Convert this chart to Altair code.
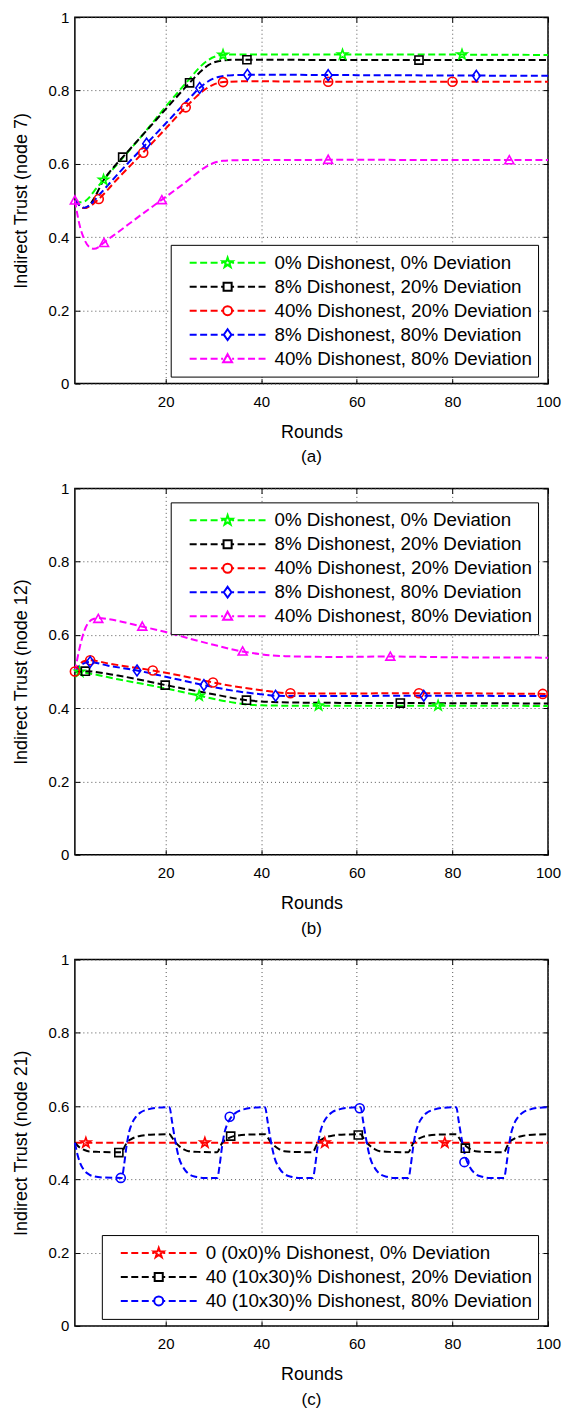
import math
import altair as alt
import pandas as pd

FONT = "Liberation Sans"

# ---------------- Panel (a): node 7 ----------------
A_NAMES = ["0% Dishonest, 0% Deviation", "8% Dishonest, 20% Deviation",
           "40% Dishonest, 20% Deviation", "8% Dishonest, 80% Deviation",
           "40% Dishonest, 80% Deviation"]
A_COLORS = ["#00ff00", "#000000", "#ff0000", "#0000ff", "#ff00ff"]
A_MARKERS = ["star", "square", "circle", "diamond", "triangle"]

A_GREEN_R = [1, 2, 3, 4, 5, 7, 10, 15, 20, 25, 27, 29, 31, 33, 40, 60, 80, 100]
A_GREEN_V = [0.500, 0.495, 0.497, 0.508, 0.525, 0.556, 0.601, 0.676, 0.756, 0.832, 0.862, 0.884, 0.895, 0.898, 0.898, 0.898, 0.898, 0.897]
A_BLACK_R = [1, 2, 3, 4, 5, 7, 9, 11, 15, 20, 25, 27, 29, 31, 34, 40, 60, 80, 100]
A_BLACK_V = [0.500, 0.486, 0.479, 0.486, 0.505, 0.555, 0.589, 0.618, 0.676, 0.749, 0.821, 0.848, 0.870, 0.880, 0.884, 0.884, 0.883, 0.883, 0.883]
A_RED_R = [1, 2, 3, 4, 6, 10, 15, 20, 24, 26, 28, 30, 32, 36, 40, 60, 80, 100]
A_RED_V = [0.500, 0.486, 0.479, 0.483, 0.504, 0.560, 0.627, 0.696, 0.752, 0.778, 0.801, 0.816, 0.823, 0.825, 0.825, 0.824, 0.824, 0.824]
A_BLUE_R = [1, 2, 3, 4, 6, 10, 16, 20, 25, 27, 29, 31, 34, 40, 60, 80, 100]
A_BLUE_V = [0.500, 0.486, 0.480, 0.486, 0.514, 0.572, 0.655, 0.710, 0.779, 0.806, 0.826, 0.837, 0.842, 0.843, 0.842, 0.841, 0.840]
A_MAG_R = [1, 2, 3, 4, 5, 6, 7, 10, 15, 19, 24, 28, 30, 32, 36, 40, 60, 80, 100]
A_MAG_V = [0.500, 0.432, 0.393, 0.373, 0.368, 0.373, 0.384, 0.413, 0.462, 0.500, 0.548, 0.588, 0.602, 0.608, 0.610, 0.610, 0.611, 0.610, 0.610]

A_GREEN_MR = [7, 32, 57, 82]
A_GREEN_MV = [0.556, 0.897, 0.898, 0.898]
A_BLACK_MR = [11, 25, 37, 73]
A_BLACK_MV = [0.618, 0.821, 0.884, 0.883]
A_RED_MR = [6, 15.3, 24.2, 32, 54, 80]
A_RED_MV = [0.504, 0.630, 0.754, 0.823, 0.824, 0.824]
A_BLUE_MR = [16, 27.1, 37.1, 54, 85]
A_BLUE_MV = [0.655, 0.807, 0.843, 0.842, 0.840]
A_MAG_MR = [1, 7.1, 19.2, 54, 91.9]
A_MAG_MV = [0.500, 0.384, 0.501, 0.611, 0.610]

# ---------------- Panel (b): node 12 ----------------
B_NAMES = A_NAMES
B_COLORS = A_COLORS
B_MARKERS = A_MARKERS

B_GREEN_R = [1, 3, 10, 20, 27, 33, 37, 40, 45, 60, 80, 100]
B_GREEN_V = [0.500, 0.497, 0.479, 0.454, 0.434, 0.418, 0.410, 0.408, 0.407, 0.407, 0.407, 0.406]
B_BLACK_R = [1, 3, 10, 20, 30, 37, 42, 50, 70, 100]
B_BLACK_V = [0.500, 0.501, 0.489, 0.463, 0.438, 0.422, 0.417, 0.415, 0.414, 0.413]
B_RED_R = [1, 2, 3, 4.2, 8, 17.3, 25, 30, 40, 46, 55, 73, 100]
B_RED_V = [0.500, 0.520, 0.529, 0.531, 0.522, 0.503, 0.484, 0.470, 0.449, 0.441, 0.440, 0.441, 0.439]
B_BLUE_R = [1, 2, 3, 4.2, 8, 14, 20, 28, 35, 40, 43, 50, 74, 100]
B_BLUE_V = [0.500, 0.515, 0.523, 0.526, 0.516, 0.503, 0.486, 0.463, 0.446, 0.438, 0.434, 0.433, 0.434, 0.433]
B_MAG_R = [1, 2, 3, 4, 5, 6, 8, 15, 20, 25, 30, 36, 40, 45, 55, 67, 80, 100]
B_MAG_V = [0.500, 0.565, 0.612, 0.636, 0.644, 0.646, 0.643, 0.623, 0.608, 0.590, 0.573, 0.555, 0.547, 0.542, 0.540, 0.541, 0.539, 0.538]

B_GREEN_MR = [2, 27, 52, 77]
B_GREEN_MV = [0.499, 0.434, 0.407, 0.407]
B_BLACK_MR = [3.2, 19.9, 36.9, 69.1]
B_BLACK_MV = [0.501, 0.463, 0.422, 0.414]
B_RED_MR = [1, 4.2, 17.3, 29.9, 46.1, 73, 98.9]
B_RED_MV = [0.500, 0.531, 0.503, 0.470, 0.441, 0.441, 0.439]
B_BLUE_MR = [4.2, 14, 28, 43, 74]
B_BLUE_MV = [0.526, 0.503, 0.463, 0.434, 0.434]
B_MAG_MR = [5.9, 15.1, 36.1, 67]
B_MAG_MV = [0.644, 0.623, 0.555, 0.541]

# ---------------- Panel (c): node 21 ----------------
C_NAMES = ["0 (0x0)% Dishonest, 0% Deviation",
           "40 (10x30)% Dishonest, 20% Deviation",
           "40 (10x30)% Dishonest, 80% Deviation"]
C_COLORS = ["#ff0000", "#000000", "#0000ff"]
C_MARKERS = ["star", "square", "circle"]

C_RED_R = [1, 25, 50, 75, 100]
C_RED_V = [0.500, 0.500, 0.500, 0.500, 0.500]
C_BLACK_R = [1, 2, 3, 4, 6, 10.8,
             11.3, 11.8, 12.8, 13.8, 14.8, 16.8, 20.8,
             21.3, 21.8, 22.8, 23.8, 24.8, 26.8, 30.8,
             31.3, 31.8, 32.8, 33.8, 34.8, 36.8, 40.8,
             41.3, 41.8, 42.8, 43.8, 44.8, 46.8, 50.8,
             51.3, 51.8, 52.8, 53.8, 54.8, 56.8, 60.8,
             61.3, 61.8, 62.8, 63.8, 64.8, 66.8, 70.8,
             71.3, 71.8, 72.8, 73.8, 74.8, 76.8, 80.8,
             81.3, 81.8, 82.8, 83.8, 84.8, 86.8, 90.8,
             91.3, 91.8, 92.8, 93.8, 94.8, 96.8, 100]
C_BLACK_V = [0.500, 0.487, 0.480, 0.476, 0.475, 0.474,
             0.486, 0.499, 0.510, 0.516, 0.519, 0.522, 0.523,
             0.515, 0.505, 0.491, 0.482, 0.477, 0.475, 0.474,
             0.486, 0.499, 0.510, 0.516, 0.519, 0.522, 0.523,
             0.515, 0.505, 0.491, 0.482, 0.477, 0.475, 0.474,
             0.486, 0.499, 0.510, 0.516, 0.519, 0.522, 0.523,
             0.515, 0.505, 0.491, 0.482, 0.477, 0.475, 0.474,
             0.486, 0.499, 0.510, 0.516, 0.519, 0.522, 0.523,
             0.515, 0.505, 0.491, 0.482, 0.477, 0.475, 0.474,
             0.486, 0.499, 0.510, 0.516, 0.519, 0.522, 0.523]
C_BLUE_R = [1, 1.5, 2, 3, 4, 5, 7, 10.8,
            11.3, 11.8, 12.3, 12.8, 13.8, 14.8, 16.3, 17.8, 20.8,
            21.3, 21.8, 22.3, 22.8, 23.8, 24.8, 26.3, 27.8, 30.8,
            31.3, 31.8, 32.3, 32.8, 33.8, 34.8, 36.3, 37.8, 40.8,
            41.3, 41.8, 42.3, 42.8, 43.8, 44.8, 46.3, 47.8, 50.8,
            51.3, 51.8, 52.3, 52.8, 53.8, 54.8, 56.3, 57.8, 60.8,
            61.3, 61.8, 62.3, 62.8, 63.8, 64.8, 66.3, 67.8, 70.8,
            71.3, 71.8, 72.3, 72.8, 73.8, 74.8, 76.3, 77.8, 80.8,
            81.3, 81.8, 82.3, 82.8, 83.8, 84.8, 86.3, 87.8, 90.8,
            91.3, 91.8, 92.3, 92.8, 93.8, 94.8, 96.3, 97.8, 100]
C_BLUE_V = [0.500, 0.470, 0.448, 0.424, 0.413, 0.408, 0.405, 0.404,
            0.440, 0.490, 0.527, 0.548, 0.571, 0.583, 0.591, 0.595, 0.597,
            0.560, 0.520, 0.485, 0.458, 0.430, 0.415, 0.407, 0.404, 0.404,
            0.440, 0.490, 0.527, 0.548, 0.571, 0.583, 0.591, 0.595, 0.597,
            0.560, 0.520, 0.485, 0.458, 0.430, 0.415, 0.407, 0.404, 0.404,
            0.440, 0.490, 0.527, 0.548, 0.571, 0.583, 0.591, 0.595, 0.597,
            0.560, 0.520, 0.485, 0.458, 0.430, 0.415, 0.407, 0.404, 0.404,
            0.440, 0.490, 0.527, 0.548, 0.571, 0.583, 0.591, 0.595, 0.597,
            0.560, 0.520, 0.485, 0.458, 0.430, 0.415, 0.407, 0.404, 0.404,
            0.440, 0.490, 0.527, 0.548, 0.571, 0.583, 0.591, 0.595, 0.597]

C_RED_MR = [3.3, 28.2, 53.3, 78.4]
C_RED_MV = [0.500, 0.500, 0.500, 0.500]
C_BLACK_MR = [10.2, 33.6, 60.3, 82.7]
C_BLACK_MV = [0.473, 0.518, 0.521, 0.485]
C_BLUE_MR = [10.6, 33.4, 60.6, 82.5]
C_BLUE_MV = [0.404, 0.571, 0.594, 0.447]

X_TICKS = [20, 40, 60, 80, 100]
Y_TICKS = [0, 0.2, 0.4, 0.6, 0.8, 1]


# ---------------- marker / legend symbol shapes ----------------
def fmt(v):
    return f"{v:.4f}".rstrip("0").rstrip(".")


def marker_path(kind, r):
    if kind == "circle":
        return f"M{fmt(r)},0A{fmt(r)},{fmt(r)} 0 1,1 {fmt(-r)},0A{fmt(r)},{fmt(r)} 0 1,1 {fmt(r)},0Z"
    if kind == "square":
        q = r * 0.9
        return f"M{fmt(-q)},{fmt(-q)}H{fmt(q)}V{fmt(q)}H{fmt(-q)}Z"
    if kind == "diamond":
        return f"M0,{fmt(-r * 1.2)}L{fmt(r * 0.85)},0L0,{fmt(r * 1.2)}L{fmt(-r * 0.85)},0Z"
    if kind == "triangle":
        return f"M0,{fmt(-r)}L{fmt(r)},{fmt(r * 0.8)}L{fmt(-r)},{fmt(r * 0.8)}Z"
    pts = []
    for i in range(10):
        a = math.radians(-90 + 36 * i)
        rr = r * 1.15 if i % 2 == 0 else r * 0.45
        pts.append(f"{fmt(rr * math.cos(a))},{fmt(rr * math.sin(a))}")
    return "M" + "L".join(pts) + "Z"


LEG_HALF = 38.0        # px: half length of the legend line sample
LEG_SIZE = (2 * LEG_HALF) ** 2
MK_R = 4.5             # px: marker radius
PLOT_W, PLOT_H = 474, 367


def legend_path(kind):
    u = 1.0 / LEG_HALF
    rm = MK_R * u
    d, g = 7 * u, 3.5 * u
    segs = []
    x = -1.0
    while x < -rm - 1e-6:
        x2 = min(x + d, -rm)
        segs.append(f"M{fmt(x)},0H{fmt(x2)}")
        segs.append(f"M{fmt(-x)},0H{fmt(-x2)}")
        x += d + g
    return "".join(segs) + marker_path(kind, rm)


def frame(names, rs, vs):
    rows = []
    for name, r_list, v_list in zip(names, rs, vs):
        for r, v in zip(r_list, v_list):
            rows.append({"r": r, "v": v, "s": name})
    return pd.DataFrame(rows)


def tick_axis(orient, values):
    # tick-only axis pulled inside the frame so that its ticks point inward
    return alt.Axis(orient=orient, values=values, offset=-5, ticks=True, tickSize=5,
                    tickColor="black", tickWidth=1, labels=False, title=None,
                    grid=False, domain=False)


def panel(names, colors, markers, line_r, line_v, mk_r, mk_v, ytitle, caption, lx, ly):
    lines = frame(names, line_r, line_v)
    marks = frame(names, mk_r, mk_v)
    xs = alt.Scale(domain=[1, 100], nice=False, zero=False)
    ys = alt.Scale(domain=[0, 1], nice=False, zero=False)
    x_main = alt.X("r:Q", scale=xs,
                   axis=alt.Axis(values=X_TICKS, title="Rounds", labelFlush=False,
                                 labelPadding=11, titlePadding=14))
    y_main = alt.Y("v:Q", scale=ys,
                   axis=alt.Axis(values=Y_TICKS, format="~g", title=ytitle,
                                 labelPadding=6, titlePadding=18))
    cscale = alt.Scale(domain=names, range=colors)
    leg = alt.Legend(orient="none", legendX=lx, legendY=ly, title=None,
                     direction="vertical", labelFont=FONT, labelFontSize=18.8,
                     labelColor="black", labelLimit=600, labelOffset=8,
                     symbolOffset=12, symbolSize=LEG_SIZE, symbolStrokeWidth=2,
                     symbolOpacity=1, clipHeight=24, rowPadding=0,
                     strokeColor="black", fillColor="white", padding=6,
                     cornerRadius=0)
    line = alt.Chart(lines).mark_line(strokeDash=[7, 3.5], strokeWidth=2,
                                      interpolate="monotone").encode(
        x=x_main, y=y_main, color=alt.Color("s:N", scale=cscale, legend=None))
    pts = alt.Chart(marks).mark_point(filled=False, strokeWidth=1.6, size=(2 * MK_R) ** 2,
                                      opacity=1).encode(
        x=alt.X("r:Q", scale=xs, axis=tick_axis("bottom", X_TICKS)),
        y=alt.Y("v:Q", scale=ys, axis=tick_axis("left", Y_TICKS)),
        color=alt.Color("s:N", scale=cscale, legend=None),
        shape=alt.Shape("s:N", scale=alt.Scale(domain=names,
                                                range=[marker_path(m, 1) for m in markers]),
                        legend=None))
    ghost = alt.Chart(marks).mark_point(filled=False, opacity=0).encode(
        x=alt.X("r:Q", scale=xs, axis=tick_axis("top", X_TICKS)),
        y=alt.Y("v:Q", scale=ys, axis=tick_axis("right", Y_TICKS)),
        color=alt.Color("s:N", scale=cscale, legend=leg),
        shape=alt.Shape("s:N", scale=alt.Scale(domain=names,
                                                range=[legend_path(m) for m in markers]),
                        legend=leg))
    return alt.layer(line, pts, ghost).resolve_scale(
        color="independent", shape="independent").resolve_axis(
        x="independent", y="independent").properties(
        width=PLOT_W, height=PLOT_H,
        title=alt.TitleParams(caption, orient="bottom", frame="group", anchor="middle",
                              offset=8, fontSize=17, font=FONT, fontWeight="normal",
                              color="black"))


pa = panel(A_NAMES, A_COLORS, A_MARKERS,
           [A_GREEN_R, A_BLACK_R, A_RED_R, A_BLUE_R, A_MAG_R],
           [A_GREEN_V, A_BLACK_V, A_RED_V, A_BLUE_V, A_MAG_V],
           [A_GREEN_MR, A_BLACK_MR, A_RED_MR, A_BLUE_MR, A_MAG_MR],
           [A_GREEN_MV, A_BLACK_MV, A_RED_MV, A_BLUE_MV, A_MAG_MV],
           "Indirect Trust (node 7)", "(a)", 96, 228)
pb = panel(B_NAMES, B_COLORS, B_MARKERS,
           [B_GREEN_R, B_BLACK_R, B_RED_R, B_BLUE_R, B_MAG_R],
           [B_GREEN_V, B_BLACK_V, B_RED_V, B_BLUE_V, B_MAG_V],
           [B_GREEN_MR, B_BLACK_MR, B_RED_MR, B_BLUE_MR, B_MAG_MR],
           [B_GREEN_MV, B_BLACK_MV, B_RED_MV, B_BLUE_MV, B_MAG_MV],
           "Indirect Trust (node 12)", "(b)", 96, 14)
pc = panel(C_NAMES, C_COLORS, C_MARKERS,
           [C_RED_R, C_BLACK_R, C_BLUE_R],
           [C_RED_V, C_BLACK_V, C_BLUE_V],
           [C_RED_MR, C_BLACK_MR, C_BLUE_MR],
           [C_RED_MV, C_BLACK_MV, C_BLUE_MV],
           "Indirect Trust (node 21)", "(c)", 27, 276)

chart = alt.vconcat(pa, pb, pc, spacing=14).resolve_scale(
    color="independent", shape="independent", x="independent", y="independent"
).properties(
    padding={"left": 3, "top": 0, "right": 0, "bottom": 0},
    background="white",
).configure_view(
    stroke="black", strokeWidth=1.5
).configure_axis(
    labelFont=FONT, titleFont=FONT, labelColor="black", titleColor="black",
    labelFontSize=15, titleFontSize=18, titleFontWeight="normal",
    gridColor="#555555", gridDash=[1, 3], gridWidth=1, ticks=False, domain=False
)

chart.save("out.html", embed_options={"renderer": "svg", "actions": False})
